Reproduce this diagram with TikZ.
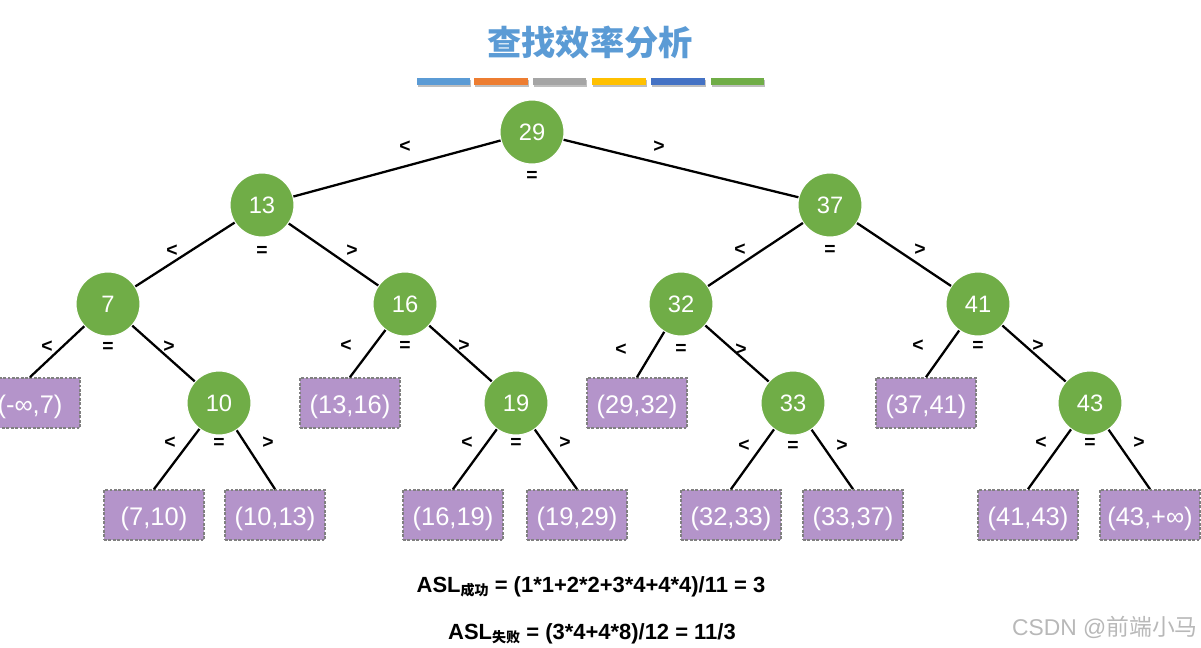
\documentclass[tikz,border=0pt]{standalone}
\usepackage{fontspec}
\setmainfont{Liberation Sans}
\newfontfamily\cjk{Noto Sans CJK SC}
\usetikzlibrary{calc}

\definecolor{keygreen}{RGB}{112,173,71}
\definecolor{gappurple}{RGB}{180,148,202}
\definecolor{titleblue}{RGB}{91,155,213}
\definecolor{barblue}{RGB}{91,155,213}
\definecolor{barorange}{RGB}{237,125,49}
\definecolor{bargray}{RGB}{165,165,165}
\definecolor{baryellow}{RGB}{255,192,0}
\definecolor{bardeep}{RGB}{68,114,196}
\definecolor{bargreen}{RGB}{112,173,71}

\tikzset{
  key/.style={circle, fill=keygreen, draw=white, line width=0.6pt,
    minimum size=1.28cm, inner sep=0pt, text=white,
    font=\fontsize{13.5}{16}\selectfont},
  gap/.style={rectangle, fill=gappurple, draw=gray, line width=1pt,
    dash pattern=on 1.6pt off 0.9pt, minimum width=2cm, minimum height=1cm,
    inner sep=0pt, text=white, text height=13pt, text depth=0.8pt,
    font=\fontsize{14.5}{16}\selectfont},
  cmp/.style={inner sep=0pt, font=\bfseries\fontsize{11}{13}\selectfont},
  link/.style={line width=1.3pt},
}

\begin{document}
\begin{tikzpicture}[x=0.02cm, y=-0.02cm]
    \useasboundingbox (0,0) rectangle (1201,647);

    % Title and colour bars
    \node[text=titleblue, font=\cjk\bfseries\fontsize{19.5}{22}\selectfont] (title) at (590,42) {查找效率分析};
    \foreach \c/\xa/\xb in {barblue/417/470, barorange/474/528, bargray/533/586,
                            baryellow/592/646, bardeep/651/705, bargreen/711/764}{
        \fill[black!25] (\xa+1,80) rectangle (\xb+1,87);
        \fill[\c] (\xa,78) rectangle (\xb,85);
    }

    % Keys:
    \node[key] (n29) at (532,132) {29};
    \node[key] (n13) at (262,205) {13};
    \node[key] (n37) at (830,205) {37};
    \node[key] (n7)  at (108,304) {7};
    \node[key] (n16) at (405,304) {16};
    \node[key] (n32) at (681,304) {32};
    \node[key] (n41) at (978,304) {41};
    \node[key] (n10) at (219,403) {10};
    \node[key] (n19) at (516,403) {19};
    \node[key] (n33) at (793,403) {33};
    \node[key] (n43) at (1090,403) {43};

    % Gaps (failure intervals):
    \node[gap] (g1)  at (30,403)   {(-∞,7)};
    \node[gap] (g2)  at (350,403)  {(13,16)};
    \node[gap] (g3)  at (637,403)  {(29,32)};
    \node[gap] (g4)  at (926,403)  {(37,41)};
    \node[gap] (g5)  at (154,515)  {(7,10)};
    \node[gap] (g6)  at (275,515)  {(10,13)};
    \node[gap] (g7)  at (453,515)  {(16,19)};
    \node[gap] (g8)  at (577,515)  {(19,29)};
    \node[gap] (g9)  at (731,515)  {(32,33)};
    \node[gap] (g10) at (853,515)  {(33,37)};
    \node[gap] (g11) at (1028,515) {(41,43)};
    \node[gap] (g12) at (1150,515) {(43,+∞)};

    % Links
    \draw[link] (n29) -- (n13);
    \draw[link] (n29) -- (n37);
    \draw[link] (n13) -- (n7);
    \draw[link] (n13) -- (n16);
    \draw[link] (n37) -- (n32);
    \draw[link] (n37) -- (n41);
    \draw[link] (n7)  -- (g1.north);
    \draw[link] (n7)  -- (n10);
    \draw[link] (n16) -- (g2.north);
    \draw[link] (n16) -- (n19);
    \draw[link] (n32) -- (g3.north);
    \draw[link] (n32) -- (n33);
    \draw[link] (n41) -- (g4.north);
    \draw[link] (n41) -- (n43);
    \draw[link] (n10) -- (g5.north);
    \draw[link] (n10) -- (g6.north);
    \draw[link] (n19) -- (g7.north);
    \draw[link] (n19) -- (g8.north);
    \draw[link] (n33) -- (g9.north);
    \draw[link] (n33) -- (g10.north);
    \draw[link] (n43) -- (g11.north);
    \draw[link] (n43) -- (g12.north);

    % Comparison marks under every key
    \foreach \p/\dx/\dy/\dz in {n29/127/15/44, n13/90/46/46, n37/90/45/45,
        n7/61/43/43, n16/59/42/42, n32/60/46/45, n41/60/42/42,
        n10/49/40/40, n19/49/40/40, n33/49/43/43, n43/49/40/40}{
        \node[cmp] (\p-l) at ($(\p)+(-\dx,\dy)$) {<};
        \node[cmp] (\p-e) at ($(\p)+(0,\dz)$)    {=};
        \node[cmp] (\p-g) at ($(\p)+(\dx,\dy)$)  {>};
    }

    % Average search lengths
    \node[font=\bfseries\fontsize{12.5}{15}\selectfont] (asl1) at (591,587)
        {ASL\raisebox{-1.5pt}{\cjk\fontsize{8}{9}\selectfont 成功} = (1*1+2*2+3*4+4*4)/11 = 3};
    \node[font=\bfseries\fontsize{12.5}{15}\selectfont] (asl2) at (592,634)
        {ASL\raisebox{-1.5pt}{\cjk\fontsize{8}{9}\selectfont 失败} = (3*4+4*8)/12 = 11/3};

    % Watermark
    \node[text=black!28, font=\fontsize{13}{15}\selectfont] (mark) at (1105,627)
        {CSDN @{\cjk 前端小马}};
\end{tikzpicture}
\end{document}
